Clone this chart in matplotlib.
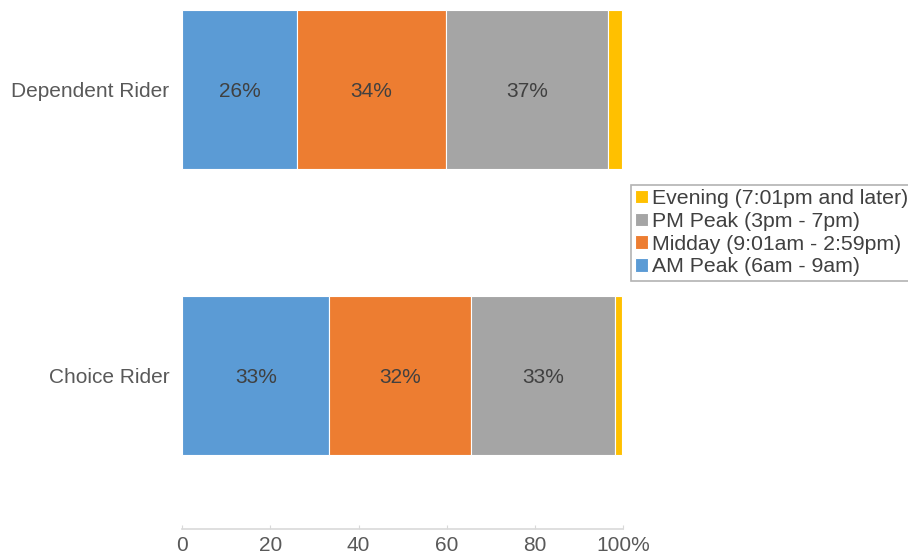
import matplotlib.pyplot as plt
import numpy as np

plt.rcParams['font.family'] = ['Liberation Sans', 'DejaVu Sans']

# categories bottom -> top
riders = ['Choice Rider', 'Dependent Rider']
periods = ['AM Peak (6am - 9am)', 'Midday (9:01am - 2:59pm)',
           'PM Peak (3pm - 7pm)', 'Evening (7:01pm and later)']
am_peak = [33.4, 26.1]
midday = [32.0, 33.7]
pm_peak = [32.7, 36.7]
evening = [1.7, 3.3]
bar_labels = [['33%', '26%'], ['32%', '34%'], ['33%', '37%'], ['', '']]
colors = ['#5B9BD5', '#ED7D31', '#A5A5A5', '#FFC000']
xticks = [0, 20, 40, 60, 80, 100]
xtick_labels = ['0', '20', '40', '60', '80', '100%']

fig = plt.figure(figsize=(9.08, 5.57), dpi=100)
ax = fig.add_axes([182 / 908, 28 / 557, 441.3 / 908, 529 / 557])

y = np.arange(len(riders))
left = np.zeros(len(riders))
for vals, name, col, labs in zip([am_peak, midday, pm_peak, evening], periods, colors, bar_labels):
    bars = ax.barh(y, vals, left=left, height=0.556, color=col, label=name,
                   edgecolor='white', linewidth=0.8)
    for b, lab in zip(bars, labs):
        if lab:
            ax.text(b.get_x() + b.get_width() / 2, b.get_y() + b.get_height() / 2, lab,
                    ha='center', va='center_baseline', fontsize=15, color='#404040')
    left += np.array(vals)

ax.set_xlim(0, 100)
ax.set_ylim(-0.537, 1.313)
ax.set_yticks(y)
ax.set_yticklabels(riders, fontsize=15, color='#595959')
ax.set_xticks(xticks)
ax.set_xticklabels(xtick_labels, fontsize=15, color='#595959')
ax.tick_params(axis='y', length=0, pad=9)
ax.tick_params(axis='x', direction='in', length=3, color='#D9D9D9', pad=5)
for s in ['top', 'right', 'left']:
    ax.spines[s].set_visible(False)
ax.spines['bottom'].set_color('#D9D9D9')
ax.spines['bottom'].set_linewidth(1.2)

handles, labels = ax.get_legend_handles_labels()
leg = ax.legend(handles[::-1], labels[::-1], loc='center left', bbox_to_anchor=(1.0, 0.56),
                fontsize=15.3, frameon=True, fancybox=False, handlelength=0.6, handleheight=0.6,
                handletextpad=0.2, labelspacing=0.18, borderpad=0.2, borderaxespad=0.35)
leg.get_frame().set_edgecolor('#A0A0A0')
leg.get_frame().set_linewidth(1.2)
for t in leg.get_texts():
    t.set_color('#404040')

fig.savefig('out.png', dpi=100)
